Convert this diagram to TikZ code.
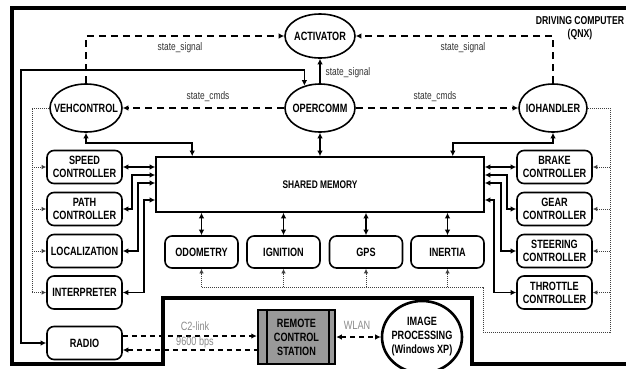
\documentclass[tikz,border=0pt]{standalone}
\usepackage{fontspec}
\newfontfamily\cond{Liberation Sans}[FakeStretch=0.76]
\usetikzlibrary{shapes.geometric,arrows.meta,calc}
\begin{document}
\begin{tikzpicture}[x=1pt,y=-1pt,
  >={Latex[length=5.5pt,width=5.5pt]},
  bxfont/.style={font=\cond\bfseries\fontsize{12}{13}\selectfont},
  box/.style={draw,line width=1.6pt,rounded corners=7pt,minimum width=75pt,minimum height=33pt,inner sep=0pt,align=center,bxfont},
  mbox/.style={box,minimum width=73pt,minimum height=32pt},
  ell/.style={draw,ellipse,line width=1.6pt,inner sep=0pt},
  elltext/.style={bxfont,align=center,inner sep=0pt},
  conn/.style={line width=1.5pt},
  dsh/.style={line width=1.8pt,dash pattern=on 7pt off 5pt},
  dsh2/.style={line width=1.8pt,dash pattern=on 5pt off 4pt},
  dot/.style={line width=1pt,densely dotted,draw=black!75},
  dotarrow/.style={-{Latex[length=4.5pt,width=4.5pt]}},
  lbl/.style={font=\cond\fontsize{11}{12}\selectfont,text=black!80,inner sep=0pt},
  glbl/.style={font=\cond\fontsize{12}{13}\selectfont,text=black!45,inner sep=0pt},
]
\useasboundingbox (0,0) rectangle (626,368);
\fill[white] (0,0) rectangle (626,368);

% frame
\draw[line width=3.5pt,line join=miter] (626,8) -- (12,8) -- (12,364) -- (163,364) -- (163,298) -- (472,298) -- (472,364) -- (626,364);

% ellipses
\node[ell,minimum width=70pt,minimum height=44pt,label={[elltext]center:ACTIVATOR}] (act) at (320,36) {};
\node[ell,minimum width=70pt,minimum height=48pt,label={[elltext]center:OPERCOMM}] (oper) at (320,108) {};
\node[ell,minimum width=72pt,minimum height=48pt,label={[elltext]center:VEHCONTROL}] (veh) at (86,108) {};
\node[ell,minimum width=68pt,minimum height=48pt,label={[elltext]center:IOHANDLER}] (ioh) at (553,108) {};

% shared memory
\node[draw,line width=1.6pt,minimum width=328pt,minimum height=55pt,inner sep=0pt,font=\cond\bfseries\fontsize{11}{12}\selectfont] (sm) at (320,184.5) {SHARED MEMORY};

% left boxes
\node[box] (speed) at (84.5,167) {SPEED\\CONTROLLER};
\node[box] (path) at (84.5,209) {PATH\\CONTROLLER};
\node[box] (loc) at (84.5,251) {LOCALIZATION};
\node[box] (interp) at (84.5,292.5) {INTERPRETER};
\node[box] (radio) at (84.5,343) {RADIO};

% right boxes
\node[box] (brake) at (554.5,167) {BRAKE\\CONTROLLER};
\node[box] (gear) at (554.5,209) {GEAR\\CONTROLLER};
\node[box] (steer) at (554.5,251) {STEERING\\CONTROLLER};
\node[box] (thr) at (554.5,292.5) {THROTTLE\\CONTROLLER};

% middle boxes
\node[mbox] (odo) at (201.5,252) {ODOMETRY};
\node[mbox] (ign) at (283.5,252) {IGNITION};
\node[mbox] (gps) at (366,252) {GPS};
\node[mbox] (inr) at (447.5,252) {INERTIA};

% remote control station
\node[draw,line width=2.5pt,fill=black!40,minimum width=77pt,minimum height=54pt,inner sep=0pt,align=center,font=\cond\bfseries\fontsize{12}{14}\selectfont] (rcs) at (296.5,337) {REMOTE\\CONTROL\\STATION};
\draw[line width=1.6pt] ([xshift=10pt]rcs.north west) -- ([xshift=10pt]rcs.south west);
\draw[line width=1.6pt] ([xshift=-7pt]rcs.north east) -- ([xshift=-7pt]rcs.south east);

% image processing
\node[ell,line width=2.6pt,minimum width=80pt,minimum height=72pt,label={[elltext,font=\cond\bfseries\fontsize{12}{14}\selectfont]center:{IMAGE\\PROCESSING\\(Windows XP)}}] (img) at (422,337) {};

% title
\node[font=\cond\bfseries\fontsize{11.4}{13}\selectfont,align=center,inner sep=0pt] (dc) at (580,28.5) {DRIVING COMPUTER\\(QNX)};

% dashed state connectors
\draw[dsh,->] (veh.north) |- (act.west);
\draw[dsh,->] (ioh.north) |- (act.east);
\draw[dsh,->] (oper.west) -- (veh.east);
\draw[dsh,->] (oper.east) -- (ioh.west);
\node[lbl] (l1) at (180,48) {state\_signal};
\node[lbl] (l2) at (463,48) {state\_signal};
\node[lbl] (l3) at (348,73) {state\_signal};
\node[lbl] (l4) at (208,97) {state\_cmds};
\node[lbl] (l5) at (435,97) {state\_cmds};

% solid connectors
\draw[conn,->] (oper.north) -- (act.south);
\coordinate (rc) at (21,70);
\draw[conn,<->] (radio.west) -| (rc) -| (oper.125);
\draw[conn,<->] (oper.south) -- (sm.north);
\draw[conn,<->] (veh.south) -- ++(0,10) -| ([xshift=37pt]sm.north west);
\draw[conn,<->] (ioh.south) -- ++(0,10) -| ([xshift=-32pt]sm.north east);

\draw[conn,<->] (speed.east) -- (speed.east -| sm.west);
\draw[conn,<->] (path.east) -- ++(9,0) |- ([yshift=9.5pt]sm.west);
\draw[conn,<->] (loc.east) -- ++(15,0) |- ([yshift=1.5pt]sm.west);
\draw[conn,<->] (interp.east) -- ++(21,0) |- ([yshift=-15.5pt]sm.west);

\draw[conn,<->] (brake.west) -- (brake.west -| sm.east);
\draw[conn,<->] (gear.west) -- ++(-9,0) |- ([yshift=9.5pt]sm.east);
\draw[conn,<->] (steer.west) -- ++(-15,0) |- ([yshift=1.5pt]sm.east);
\draw[conn,<->] (thr.west) -- ++(-22,0) |- ([yshift=-15.5pt]sm.east);

\foreach \n in {odo,ign,gps,inr} \draw[conn,<->] (\n.north) -- (\n.north |- sm.south);

% dotted lines
\coordinate (d1) at (483,287);
\coordinate (d2) at (610,332);
\draw[dot] (ioh.east) -| (d2) -| (d1) -- (odo.south |- d1);
\foreach \n in {odo,ign,gps,inr} \draw[dot,dotarrow] (\n.south |- d1) -- (\n.south);
\foreach \n in {brake,gear,steer,thr} \draw[dot,dotarrow] (\n.east -| d2) -- (\n.east);
\coordinate (dl) at (32,292.5);
\draw[dot] (veh.west) -| (dl);
\foreach \n in {speed,path,loc,interp} \draw[dot,dotarrow] (\n.west -| dl) -- (\n.west);

% radio links
\draw[dsh2,->] ([yshift=7pt]radio.east) -- ([yshift=7pt]radio.east -| rcs.west);
\draw[dsh2,<-] ([yshift=-7pt]radio.east) -- ([yshift=-7pt]radio.east -| rcs.west);
\node[glbl] (c2) at (195,326) {C2-link};
\node[glbl] (bps) at (195,342) {9600 bps};
\draw[dsh2,<->] (rcs.east) -- (img.west);
\node[glbl] (wl) at (357,325) {WLAN};
\end{tikzpicture}
\end{document}
